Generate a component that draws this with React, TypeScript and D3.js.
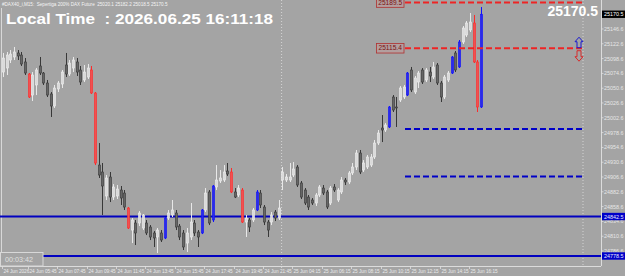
import React from 'react';
import * as d3 from 'd3';

// ---- data ----
const opens = [25076.8,25083.3,25096.3,25101.2,25107.7,25104.4,25093.1,25073.6,25039.5,25055.8,25086.6,25075.2,25059.0,25041.2,25021.7,25049.3,25057.4,25088.2,25073.6,25083.3,25093.1,25080.1,25063.9,25068.7,25080.1,25042.8,24926.0,24914.7,24875.8,24906.6,24874.1,24875.8,24885.5,24880.6,24856.3,24820.6,24832.0,24832.0,24823.9,24832.0,24825.5,24815.8,24809.3,24815.8,24807.7,24840.1,24845.0,24848.2,24827.1,24815.8,24799.5,24809.3,24832.0,24817.4,24815.8,24853.1,24882.3,24836.9,24890.4,24900.1,24901.7,24916.3,24914.7,24882.3,24877.4,24885.5,24833.6,24836.9,24836.9,24853.1,24880.6,24857.9,24833.6,24833.6,24849.8,24840.1,24901.7,24901.7,24901.7,24909.8,24922.8,24896.9,24885.5,24874.1,24869.3,24864.4,24877.4,24888.7,24882.3,24864.4,24890.4,24869.3,24882.3,24901.7,24898.5,24913.1,24922.8,24945.5,24917.9,24922.8,24926.0,24939.0,24961.7,24986.0,24982.8,24987.7,25036.3,25020.1,25031.4,25036.3,25039.5,25080.1,25044.4,25060.6,25080.1,25063.9,25076.8,25068.7,25088.2,25059.0,25036.3,25063.9,25075.2,25107.7,25085.0,25125.5,25136.8,25145.0,25156.3,25093.1,25020.1];
const highs = [25107.7,25109.3,25112.5,25117.4,25112.5,25109.3,25099.5,25075.2,25076.8,25083.3,25101.2,25076.8,25063.9,25044.4,25055.8,25062.3,25080.1,25107.7,25096.3,25101.2,25099.5,25086.6,25088.2,25089.8,25086.6,25044.4,24961.7,24929.3,24909.8,24914.7,24895.2,24893.6,24892.0,24885.5,24857.9,24840.1,24836.9,24851.4,24846.6,24836.9,24828.7,24819.0,24823.9,24820.6,24841.7,24853.1,24869.3,24853.1,24830.4,24820.6,24823.9,24864.4,24836.9,24820.6,24854.7,24888.7,24885.5,24893.6,24926.0,24917.9,24926.0,24929.3,24921.2,24888.7,24893.6,24888.7,24845.0,24840.1,24856.3,24885.5,24885.5,24861.2,24836.9,24849.8,24853.1,24869.3,24922.8,24911.4,24929.3,24930.9,24926.0,24900.1,24888.7,24877.4,24872.5,24880.6,24893.6,24893.6,24885.5,24892.0,24895.2,24888.7,24906.6,24905.0,24916.3,24929.3,24950.4,24950.4,24934.1,24942.3,24943.9,24966.6,24982.8,25007.1,24994.1,25021.7,25039.5,25036.3,25054.1,25055.8,25076.8,25085.0,25070.4,25078.5,25083.3,25083.3,25085.0,25093.1,25091.4,25062.3,25072.0,25078.5,25102.8,25110.9,25128.7,25151.4,25159.5,25172.5,25169.3,25096.3,25182.2];
const lows = [25068.7,25072.0,25091.4,25096.3,25096.3,25086.6,25072.0,25034.7,25029.8,25039.5,25072.0,25055.8,25036.3,25003.9,25018.5,25044.4,25050.9,25068.7,25070.4,25076.8,25070.4,25055.8,25060.6,25065.5,25041.2,24926.0,24905.0,24845.0,24869.3,24866.0,24869.3,24870.9,24861.2,24853.1,24822.3,24799.5,24796.3,24827.1,24820.6,24812.5,24804.4,24793.1,24783.3,24801.2,24806.0,24836.9,24841.7,24820.6,24804.4,24788.2,24785.0,24804.4,24810.9,24793.1,24814.1,24849.8,24828.7,24833.6,24885.5,24896.9,24898.5,24908.2,24880.6,24872.5,24874.1,24832.0,24809.3,24817.4,24833.6,24851.4,24856.3,24828.7,24809.3,24828.7,24835.2,24836.9,24885.5,24898.5,24898.5,24906.6,24890.4,24870.9,24861.2,24853.1,24861.2,24859.6,24874.1,24877.4,24854.7,24861.2,24882.3,24866.0,24879.0,24893.6,24895.2,24909.8,24917.9,24911.4,24914.7,24919.6,24922.8,24935.8,24958.5,24963.3,24979.6,24986.0,25012.0,24987.7,25028.2,25033.1,25037.9,25044.4,25041.2,25050.9,25057.4,25060.6,25060.6,25065.5,25055.8,25028.2,25033.1,25060.6,25073.6,25076.8,25083.3,25122.2,25133.6,25141.7,25091.4,25012.0,25018.5];
const closes = [25099.5,25104.4,25106.0,25109.3,25102.8,25089.8,25075.2,25036.3,25072.0,25080.1,25075.2,25059.0,25039.5,25021.7,25050.9,25059.0,25076.8,25073.6,25091.4,25096.3,25076.8,25060.6,25076.8,25083.3,25042.8,24929.3,24909.8,24892.0,24905.0,24874.1,24890.4,24887.1,24872.5,24857.9,24823.9,24836.9,24815.8,24848.2,24845.0,24815.8,24809.3,24807.7,24820.6,24804.4,24840.1,24848.2,24853.1,24825.5,24809.3,24793.1,24815.8,24833.6,24815.8,24809.3,24853.1,24880.6,24832.0,24892.0,24901.7,24905.0,24914.7,24911.4,24882.3,24874.1,24888.7,24833.6,24840.1,24825.5,24853.1,24882.3,24861.2,24833.6,24820.6,24845.0,24840.1,24856.3,24914.7,24906.6,24906.6,24919.6,24893.6,24874.1,24864.4,24857.9,24864.4,24877.4,24890.4,24880.6,24857.9,24888.7,24885.5,24885.5,24901.7,24898.5,24913.1,24922.8,24945.5,24914.7,24929.3,24939.0,24939.0,24961.7,24977.9,24982.8,24990.9,25020.1,25015.2,25018.5,25050.9,25052.5,25075.2,25047.7,25067.1,25075.2,25060.6,25080.1,25070.4,25085.0,25059.0,25036.3,25068.7,25075.2,25101.2,25080.1,25125.5,25148.2,25156.3,25157.9,25093.1,25020.1,25170.5];

const redBars = [7, 24, 25, 34, 62, 65, 128, 129];
const blueBars = [44, 54, 57, 69, 105, 110, 122, 124, 130];

const timeTickBars = [0, 7, 15, 23, 31, 39, 47, 55, 63, 71, 79, 87, 95, 103, 111, 119, 127];
const timeTickLabels = ['24 Jun 2026', '24 Jun 05:45', '24 Jun 07:45', '24 Jun 09:45', '24 Jun 11:45', '24 Jun 13:45', '24 Jun 15:45', '24 Jun 17:45', '24 Jun 19:45', '24 Jun 21:45', '25 Jun 04:15', '25 Jun 06:15', '25 Jun 08:15', '25 Jun 10:15', '25 Jun 12:15', '25 Jun 14:15', '25 Jun 16:15'];
const dayBreakBar = 75.5;

const priceTicks = [25146.6, 25122.6, 25098.6, 25074.6, 25050.6, 25026.6, 25002.6, 24978.6, 24954.6, 24930.6, 24906.6, 24882.6, 24858.6, 24834.6, 24810.6, 24786.6];

const redLevels = [25189.5, 25115.4];
const blueDashLevels = [24984.4, 24907.4];
const blueSolidLevels = [24842.5, 24778.5];
const currentPrice = 25170.5;

const titleText = '#DAX40_i,M15:  Sepertiga 200% DAX Future  25020.1 25182.2 25018.5 25170.5';
const localTimeText = 'Local Time  : 2026.06.25 16:11:18';
const countdownText = '00:03:42';

// ---- layout ----
const W = 625, H = 276;
const plotBottom = 266;
const axisX = 601;
const levelX0 = 405, levelX1 = 583;
const FONT = '"Liberation Sans", Arial, sans-serif';
const BG = '#a4a4a4';

export default function App() {
  const x = d3.scaleLinear().domain([0, opens.length - 1]).range([3, 481]);
  const y = d3.scaleLinear().domain([24762.3, 25193.6]).range([plotBottom, 0]);
  const fmt = d3.format('.1f');
  const bw = 2.1;

  const candles = opens.map((o, i) => {
    const c = closes[i];
    const cx = Math.round(x(i)) + 0.5;
    const top = y(Math.max(o, c));
    const bot = y(Math.min(o, c));
    let fill = '#dadada', stroke = '#f0f0f0', wick = '#e8e8e8';
    if (c < o) { fill = '#666666'; stroke = '#383838'; wick = '#383838'; }
    if (redBars.includes(i)) { fill = '#f25050'; stroke = '#ff2a2a'; wick = '#ff2a2a'; }
    if (blueBars.includes(i)) { fill = '#2a2ae8'; stroke = '#1010ff'; wick = '#1010ff'; }
    return (
      <g key={i}>
        <line x1={cx} x2={cx} y1={y(highs[i])} y2={y(lows[i])} stroke={wick} strokeWidth={1} />
        <rect x={cx - bw / 2} y={top} width={bw} height={Math.max(1, bot - top)} fill={fill} stroke={stroke} strokeWidth={0.6} />
      </g>
    );
  });

  const arrowX = 579;
  const upY = y(redLevels[1]) - 11;
  const downY = y(redLevels[1]) + 2;
  const sepX = (x(Math.floor(dayBreakBar)) + x(Math.ceil(dayBreakBar))) / 2 + 1;

  return (
    <svg width={W} height={H} style={{ position: 'absolute', left: 0, top: 0, background: BG }} fontFamily={FONT}>
      <rect x={0} y={0} width={W} height={H} fill={BG} />
      {/* left frame */}
      <line x1={1.5} x2={1.5} y1={8} y2={plotBottom} stroke="#d8d8d8" strokeWidth={1} />
      {/* separators */}
      <line x1={sepX} x2={sepX} y1={0} y2={plotBottom + 3} stroke="#d4d4d4" strokeWidth={1} strokeDasharray="1,2" />
      <line x1={levelX1} x2={levelX1} y1={0} y2={plotBottom} stroke="#d4d4d4" strokeWidth={1} strokeDasharray="1,2" />

      {/* solid blue levels */}
      {blueSolidLevels.map((p, i) => (
        <line key={'bs' + i} x1={0} x2={axisX} y1={y(p)} y2={y(p)} stroke="#0000c0" strokeWidth={2} />
      ))}

      {candles}

      {/* dashed levels */}
      {redLevels.map((p, i) => (
        <line key={'rl' + i} x1={levelX0} x2={levelX1} y1={y(p)} y2={y(p)} stroke="#ee2424" strokeWidth={2} strokeDasharray="6,3" />
      ))}
      {blueDashLevels.map((p, i) => (
        <line key={'bl' + i} x1={levelX0} x2={levelX1} y1={y(p)} y2={y(p)} stroke="#0000c8" strokeWidth={2} strokeDasharray="6,3" />
      ))}
      {redLevels.map((p, i) => (
        <g key={'rlab' + i}>
          <rect x={376.5} y={y(p) - 4.8} width={27.5} height={9.6} fill="#c09a9a" fillOpacity={0.55} stroke="#b03030" strokeWidth={0.8} />
          <text x={390.2} y={y(p) + 2.2} fontSize={6.6} fill="#7a1010" textAnchor="middle">{fmt(p)}</text>
        </g>
      ))}

      {/* arrows */}
      <path d={`M${arrowX},${upY} l4,4.5 h-2 v6 h-4 v-6 h-2 z`} fill="none" stroke="#1a1ad0" strokeWidth={1} />
      <path d={`M${arrowX},${downY + 11} l4,-4.5 h-2 v-6 h-4 v6 h-2 z`} fill="none" stroke="#d82a2a" strokeWidth={1} />

      {/* axes frame */}
      <line x1={0} x2={axisX} y1={plotBottom + 0.5} y2={plotBottom + 0.5} stroke="#dcdcdc" strokeWidth={1} />
      <line x1={axisX + 0.5} x2={axisX + 0.5} y1={0} y2={plotBottom} stroke="#dcdcdc" strokeWidth={1} />

      {/* price axis */}
      {priceTicks.map((p, i) => (
        <g key={'pt' + i}>
          <line x1={axisX} x2={axisX + 2.5} y1={y(p)} y2={y(p)} stroke="#e0e0e0" strokeWidth={0.8} />
          <text x={axisX + 3} y={y(p) + 2} fontSize={5.4} fill="#e6e6e6">{fmt(p)}</text>
        </g>
      ))}
      {blueSolidLevels.map((p, i) => (
        <g key={'bsl' + i}>
          <rect x={axisX + 1} y={y(p) - 3.7} width={23} height={7.4} fill="#0000c8" />
          <text x={axisX + 3} y={y(p) + 2} fontSize={5.4} fill="#e8e8ff">{fmt(p)}</text>
        </g>
      ))}
      <rect x={axisX + 1} y={y(currentPrice) - 3.7} width={23} height={7.4} fill="#000000" />
      <text x={axisX + 3} y={y(currentPrice) + 2} fontSize={5.4} fill="#ffffff">{fmt(currentPrice)}</text>

      {/* time axis */}
      {timeTickBars.map((b, i) => (
        <g key={'tt' + i}>
          <line x1={Math.round(x(b)) - 0.5} x2={Math.round(x(b)) - 0.5} y1={plotBottom} y2={plotBottom + 3} stroke="#e0e0e0" strokeWidth={0.8} />
          <text x={Math.round(x(b)) + 0.5} y={272.5} fontSize={4.7} fill="#ececec">{timeTickLabels[i]}</text>
        </g>
      ))}

      {/* texts */}
      <text x={2} y={5.5} fontSize={4.6} fill="#f4f4f4" style={{ whiteSpace: 'pre' }}>{titleText}</text>
      <text x={6} y={23.5} fontSize={14.6} fontWeight="bold" fill="#ffffff" style={{ whiteSpace: 'pre' }} textLength={267} lengthAdjust="spacingAndGlyphs">{localTimeText}</text>
      <text x={598} y={15.5} fontSize={14} fontWeight="bold" fill="#ffffff" textAnchor="end">{fmt(currentPrice)}</text>

      {/* countdown box */}
      <rect x={0.5} y={252.5} width={42.5} height={13.5} fill={BG} stroke="#d8d8d8" strokeWidth={1} />
      <text x={5} y={262} fontSize={7.2} fill="#e0e0e0">{countdownText}</text>
    </svg>
  );
}
